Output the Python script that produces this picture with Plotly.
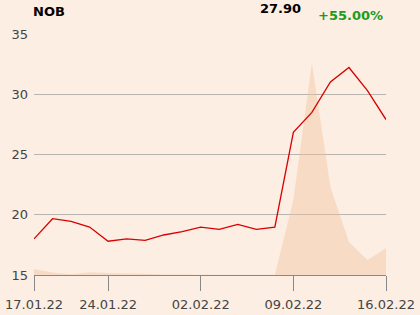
import plotly.graph_objects as go

dates = ["17.01.22", "18.01.22", "19.01.22", "20.01.22", "24.01.22",
         "25.01.22", "26.01.22", "27.01.22", "28.01.22", "02.02.22",
         "03.02.22", "04.02.22", "07.02.22", "08.02.22", "09.02.22",
         "10.02.22", "11.02.22", "14.02.22", "15.02.22", "16.02.22"]
price = [18.00, 19.67, 19.45, 18.98, 17.80, 17.99, 17.88, 18.32, 18.60, 18.98,
         18.79, 19.20, 18.79, 18.98, 26.84, 28.50, 31.02, 32.22, 30.30, 27.90]
volume = [6.0, 2.5, 0.8, 2.8, 2.0, 1.5, 1.2, 0.6, 0.4, 0.3,
          0.3, 0.3, 0.3, 0.3, 75, 212, 88, 33, 15, 27]
tick_labels = ["17.01.22", "24.01.22", "02.02.22", "09.02.22", "16.02.22"]
y_ticks = [15, 20, 25, 30, 35]
symbol = "NOB"
last_price = "27.90"
change = "+55.00%"

BG = "#FCEEE2"
FONT = "DejaVu Sans"

fig = go.Figure()
fig.add_trace(go.Scatter(
    x=dates, y=volume, yaxis="y", mode="none", fill="tozeroy",
    fillcolor="rgba(242,193,158,0.42)", hoverinfo="skip", showlegend=False))
fig.add_trace(go.Scatter(
    x=dates, y=price, yaxis="y2", mode="lines",
    line=dict(color="#D80000", width=1.3), showlegend=False))

fig.update_layout(
    width=420, height=315,
    margin=dict(l=34, r=34, t=34, b=40),
    paper_bgcolor=BG, plot_bgcolor=BG,
    font=dict(family=FONT, size=13, color="#444444"),
    xaxis=dict(type="category", range=[0, 19], tickmode="array",
               tickvals=tick_labels, ticktext=tick_labels, automargin=False,
               ticks="outside", ticklen=15, tickcolor="#888888", tickwidth=1,
               ticklabelstandoff=2,
               showline=True, linecolor="#888888", linewidth=1,
               showgrid=False, zeroline=False,
               tickfont=dict(size=13, color="#444444")),
    yaxis=dict(range=[0, 241], visible=False, showgrid=False, zeroline=False,
               automargin=False, fixedrange=True),
    yaxis2=dict(overlaying="y", side="left", range=[15, 35], automargin=False,
                tickvals=y_ticks, showgrid=True, gridcolor="#B8B4B0",
                gridwidth=1, zeroline=False, showline=False,
                ticks="", ticklabelstandoff=5,
                tickfont=dict(size=13, color="#444444")),
    annotations=[
        dict(text="<b>" + symbol + "</b>", xref="paper", yref="paper",
             x=-0.008, y=1.095, xanchor="left", yanchor="middle", showarrow=False,
             font=dict(size=13, color="#000000", family=FONT)),
        dict(text="<b>" + last_price + "</b>", xref="paper", yref="paper",
             x=0.765, y=1.104, xanchor="right", yanchor="middle", showarrow=False,
             font=dict(size=13, color="#000000", family=FONT)),
        dict(text="<b>" + change + "</b>", xref="paper", yref="paper",
             x=0.997, y=1.0747, xanchor="right", yanchor="middle", showarrow=False,
             font=dict(size=13, color="#1E9A1E", family=FONT)),
    ],
)

fig.write_html("out.html")
